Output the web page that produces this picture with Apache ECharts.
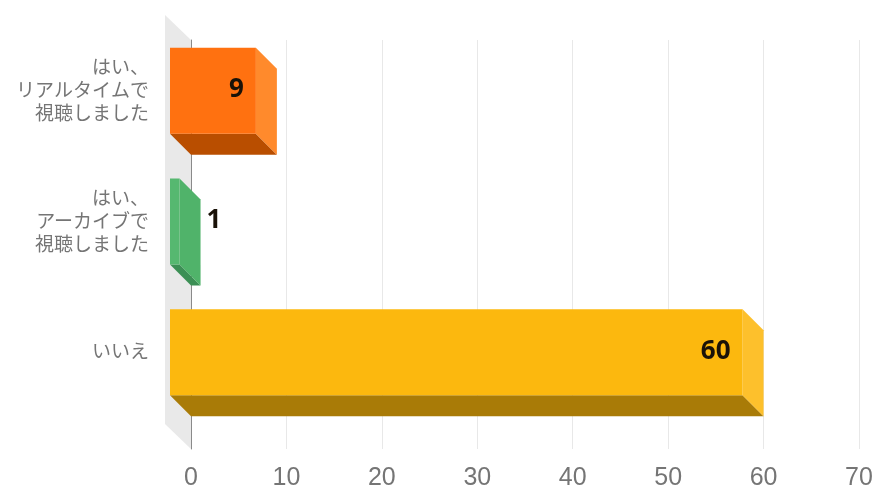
<!DOCTYPE html>
<html><head><meta charset="utf-8">
<style>html,body{margin:0;padding:0;background:#fff}#c{width:876px;height:491px}</style>
<script src="https://cdn.jsdelivr.net/npm/echarts@6/dist/echarts.min.js"></script>
</head><body><div id="c"></div>
<script>
const categories = ['はい、\nリアルタイムで\n視聴しました', 'はい、\nアーカイブで\n視聴しました', 'いいえ'];
const values = [9, 1, 60];
const frontColors = ['#ff7110', '#56b870', '#fcb80e'];
const sideColors = ['#ff8a2c', '#50b36a', '#fdc02c'];
const bottomColors = ['#b94e00', '#3c8f55', '#a97b07'];
const DEPTH = 21, BAR = 86;
const LABEL_SHIFT = -0.168;

const chart = echarts.init(document.getElementById('c'), null, {renderer: 'canvas'});

function renderBar(params, api) {
  const i = api.value(0), v = api.value(1);
  const base = api.coord([0, i]), end = api.coord([v, i]);
  const cy = base[1], x0 = base[0], x1 = end[0], h = BAR / 2, d = DEPTH;
  const poly = (points, fill) => ({type: 'polygon', shape: {points}, style: {fill}});
  const inside = v >= 5;
  return {type: 'group', children: [
    poly([[x0 - d, cy + h - d], [x0, cy + h], [x1, cy + h], [x1 - d, cy + h - d]], bottomColors[i]),
    poly([[x1 - d, cy - h - d], [x1, cy - h], [x1, cy + h], [x1 - d, cy + h - d]], sideColors[i]),
    {type: 'rect', shape: {x: x0 - d, y: cy - h - d, width: x1 - x0, height: BAR}, style: {fill: frontColors[i]}},
    {type: 'text', style: {
      text: String(v), x: inside ? x1 - d - 12 : x1 + 6, y: cy - d - 1,
      align: inside ? 'right' : 'left', verticalAlign: 'middle',
      font: 'bold 26px "Open Sans", "Noto Sans", sans-serif', fill: '#1a1208'
    }}
  ]};
}

function renderWall(params) {
  const c = params.coordSys, d = 26;
  return {type: 'polygon', shape: {points: [
    [c.x - d, c.y - 25], [c.x, c.y], [c.x, c.y + c.height], [c.x - d, c.y + c.height - 25]
  ]}, style: {fill: '#e9e9e9'}};
}

chart.setOption({
  animation: false,
  backgroundColor: '#fff',
  grid: {left: 191, right: 17, top: 40, bottom: 41},
  xAxis: {
    type: 'value', min: 0, max: 70, interval: 10,
    axisLine: {show: false}, axisTick: {show: false},
    splitLine: {lineStyle: {color: '#e8e8e8', width: 1}},
    axisLabel: {color: '#757575', fontSize: 25, margin: 17, fontFamily: 'Liberation Sans, Arial, sans-serif'}
  },
  yAxis: {
    type: 'value', inverse: true, min: -0.55, max: 2.58,
    splitLine: {show: false}, axisTick: {show: false},
    axisLine: {show: true, lineStyle: {color: '#8a8a8a', width: 1}},
    axisLabel: {
      customValues: categories.map((c, i) => i + LABEL_SHIFT),
      formatter: v => categories[Math.ceil(v) + 0],
      color: '#757575', fontSize: 19, lineHeight: 23, align: 'right', margin: 42,
      fontFamily: '"Noto Sans CJK JP", sans-serif'
    }
  },
  series: [
    {type: 'custom', z: -1, silent: true, renderItem: renderWall, data: [[0, 0]], encode: {x: 0, y: 1}},
    {type: 'custom', z: 3, renderItem: renderBar,
     data: values.map((v, i) => [i, v]), encode: {x: 1, y: 0}}
  ]
});
</script></body></html>
